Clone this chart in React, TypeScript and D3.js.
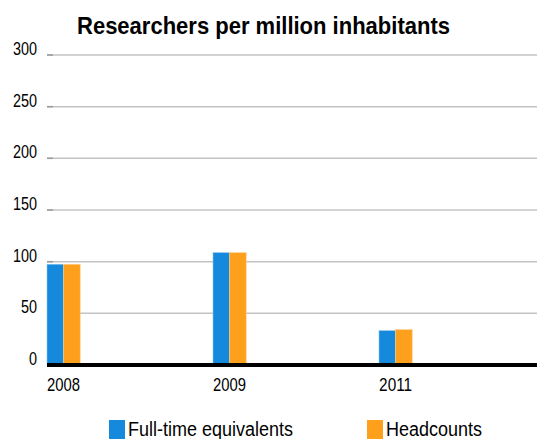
import React from "react";
import * as d3 from "d3";

const years = ["2008", "2009", "2011"];
const fullTime = [97.5, 108.7, 33.2];
const headcounts = [97.5, 108.7, 34.2];
const yTicks = [0, 50, 100, 150, 200, 250, 300];
const seriesNames = ["Full-time equivalents", "Headcounts"];
const colors = ["#1589dc", "#fea01c"];

const W = 537;
const H = 439;
const FONT = "'Liberation Sans', Arial, sans-serif";

export default function App() {
  const x = d3.scaleBand<string>().domain(years).range([47, 545]).padding(0);
  const y = d3.scaleLinear().domain([0, 300]).range([365, 55]);
  const barW = x.bandwidth() * 0.1;
  const series = [fullTime, headcounts];

  return (
    <svg
      width={W}
      height={H}
      style={{ position: "absolute", left: 0, top: 0, background: "#fff" }}
      fontFamily={FONT}
    >
      <text
        x={77}
        y={33.5}
        fontSize={24.5}
        fontWeight="bold"
        textLength={373}
        lengthAdjust="spacingAndGlyphs"
        fill="#000"
      >
        Researchers per million inhabitants
      </text>

      {yTicks.map((t) => (
        <g key={t}>
          {t > 0 && (
            <line x1={47} x2={W} y1={y(t)} y2={y(t)} stroke="#c4c4c4" strokeWidth={1.5} />
          )}
          {t > 0 && (
            <line x1={47} x2={53} y1={y(t)} y2={y(t)} stroke="#999" strokeWidth={1.5} />
          )}
          <text
            x={37}
            y={y(t)}
            fontSize={17.5}
            textAnchor="end"
            textLength={String(t).length * 8}
            lengthAdjust="spacingAndGlyphs"
            fill="#000"
          >
            {t}
          </text>
        </g>
      ))}

      {years.map((yr, i) => (
        <g key={yr}>
          {series.map((vals, s) => (
            <rect
              key={s}
              x={(x(yr) as number) + s * barW}
              y={y(vals[i])}
              width={barW}
              height={y(0) - y(vals[i])}
              fill={colors[s]}
              stroke={s === 0 ? "#8cc6ee" : "#ffcf8c"}
              strokeWidth={0.6}
            />
          ))}
          <text
            x={(x(yr) as number) + barW}
            y={391}
            fontSize={18.5}
            textAnchor="middle"
            textLength={33}
            lengthAdjust="spacingAndGlyphs"
            fill="#000"
          >
            {yr}
          </text>
        </g>
      ))}

      <line x1={47} x2={W} y1={y(0)} y2={y(0)} stroke="#000" strokeWidth={4} />

      {seriesNames.map((name, s) => {
        const lx = s === 0 ? 109 : 367;
        const tl = s === 0 ? 165 : 96;
        return (
          <g key={name}>
            <rect x={lx} y={420} width={16} height={20} fill={colors[s]} />
            <text
              x={lx + 19}
              y={436}
              fontSize={20}
              textLength={tl}
              lengthAdjust="spacingAndGlyphs"
              fill="#000"
            >
              {name}
            </text>
          </g>
        );
      })}
    </svg>
  );
}
